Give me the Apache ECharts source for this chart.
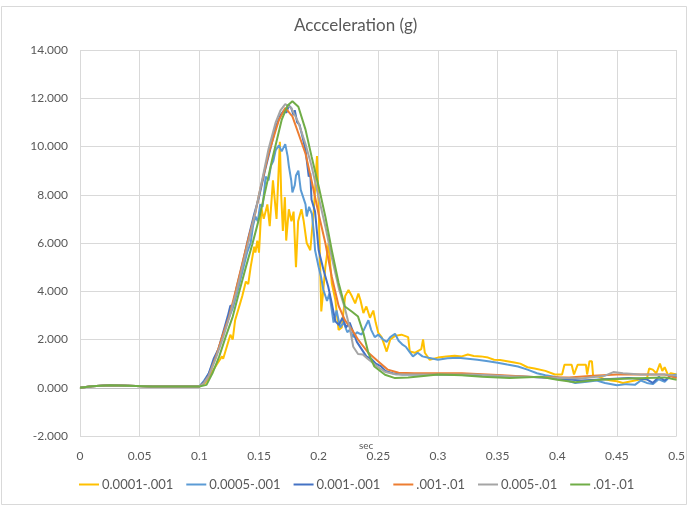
<!DOCTYPE html>
<html>
<head>
<meta charset="utf-8">
<style>
  html, body { margin: 0; padding: 0; background: #fff; }
  .chart { width: 688px; height: 506px; }
</style>
<script src="https://cdn.jsdelivr.net/npm/echarts@6/dist/echarts.min.js"></script>
</head>
<body>
<div class="chart"></div>
<script>
// 图例名字
var seriesNames = ['0.0001-.001', '0.0005-.001', '0.001-.001', '.001-.01', '0.005-.01', '.01-.01'];
var seriesColors = ['#FFC000', '#5B9BD5', '#4472C4', '#ED7D31', '#A5A5A5', '#70AD47'];
var yTicks = [-2, 0, 2, 4, 6, 8, 10, 12, 14];

// 每条线 [sec, g]
var s0001 = [[0, 0], [0.01, 0.06], [0.025, 0.1], [0.04, 0.08], [0.06, 0.05], [0.1, 0.05], [0.105, 0.2], [0.11, 0.6],
  [0.115, 1.0], [0.119, 1.3], [0.12, 1.2], [0.123, 1.7], [0.126, 2.2], [0.128, 2.0], [0.13, 2.8], [0.133, 3.3],
  [0.136, 3.8], [0.139, 4.4], [0.141, 4.3], [0.143, 5.0], [0.146, 5.85], [0.147, 5.6], [0.1486, 6.1], [0.15, 5.6],
  [0.152, 7.45], [0.154, 7.0], [0.157, 7.6], [0.159, 6.7], [0.1617, 8.6], [0.1647, 7.0], [0.1675, 10.2], [0.1686, 8.0],
  [0.17, 6.5], [0.1717, 7.9], [0.1728, 6.1], [0.175, 7.4], [0.1772, 6.9], [0.179, 7.3], [0.181, 5.0], [0.1828, 6.9],
  [0.1856, 7.4], [0.1875, 6.9], [0.19, 6.0], [0.193, 5.7], [0.196, 7.4], [0.1986, 9.6], [0.2, 7.5], [0.2022, 3.16],
  [0.204, 4.1], [0.2056, 5.0], [0.2083, 6.0], [0.211, 4.33], [0.214, 3.64], [0.2167, 2.4], [0.2194, 2.5], [0.2222, 3.8],
  [0.225, 4.05], [0.2278, 3.8], [0.2306, 3.5], [0.2333, 3.9], [0.235, 3.64], [0.2375, 3.1], [0.24, 3.37], [0.243, 2.9],
  [0.2458, 3.2], [0.2478, 2.7], [0.25, 2.27], [0.2528, 2.1], [0.257, 1.5], [0.26, 2.0], [0.264, 2.15], [0.2694, 2.2],
  [0.275, 2.1], [0.2764, 1.5], [0.2806, 1.45], [0.286, 1.6], [0.2875, 2.0], [0.289, 1.45], [0.293, 1.16], [0.3, 1.25],
  [0.307, 1.3], [0.314, 1.33], [0.32, 1.3], [0.325, 1.38], [0.33, 1.32], [0.336, 1.3], [0.342, 1.25], [0.347, 1.16],
  [0.352, 1.15], [0.358, 1.1], [0.364, 1.05], [0.369, 1.0], [0.375, 0.85], [0.381, 0.8], [0.39, 0.7], [0.398, 0.55],
  [0.404, 0.55], [0.406, 0.95], [0.412, 0.95], [0.414, 0.55], [0.417, 0.95], [0.424, 0.95], [0.425, 0.55], [0.427, 1.1],
  [0.429, 1.1], [0.43, 0.5], [0.435, 0.45], [0.44, 0.35], [0.445, 0.3], [0.45, 0.27], [0.455, 0.2], [0.46, 0.25],
  [0.465, 0.3], [0.47, 0.35], [0.475, 0.35], [0.477, 0.8], [0.48, 0.75], [0.483, 0.6], [0.486, 1.0], [0.488, 0.7],
  [0.49, 0.85], [0.493, 0.5], [0.495, 0.6], [0.5, 0.55]];

var s0005 = [[0, 0], [0.01, 0.06], [0.025, 0.1], [0.04, 0.08], [0.06, 0.05], [0.1, 0.05], [0.104, 0.3], [0.108, 0.6],
  [0.112, 1.1], [0.116, 1.6], [0.12, 2.2], [0.124, 2.8], [0.128, 3.3], [0.132, 4.0], [0.136, 4.8], [0.14, 5.6],
  [0.143, 6.0], [0.145, 6.7], [0.147, 7.1], [0.149, 6.9], [0.151, 7.6], [0.153, 7.5], [0.1556, 8.75], [0.158, 8.6],
  [0.16, 9.2], [0.162, 9.4], [0.164, 9.85], [0.1667, 10.05], [0.169, 9.8], [0.172, 10.1], [0.174, 9.6], [0.175, 9.2],
  [0.177, 8.6], [0.178, 8.1], [0.18, 8.4], [0.181, 8.8], [0.183, 9.0], [0.185, 8.2], [0.187, 7.9], [0.189, 7.6],
  [0.19, 7.1], [0.192, 7.5], [0.1944, 7.2], [0.196, 6.4], [0.197, 5.7], [0.2, 5.0], [0.202, 4.6], [0.204, 4.05],
  [0.207, 3.6], [0.209, 3.9], [0.2125, 2.7], [0.215, 3.2], [0.218, 2.5], [0.221, 2.7], [0.224, 2.3], [0.226, 2.4],
  [0.229, 2.1], [0.232, 2.3], [0.236, 2.2], [0.2417, 2.8], [0.244, 2.4], [0.247, 2.1], [0.25, 2.2], [0.254, 2.0],
  [0.257, 1.9], [0.26, 2.1], [0.264, 2.24], [0.267, 1.95], [0.27, 1.8], [0.273, 1.7], [0.276, 1.5], [0.279, 1.3],
  [0.283, 1.45], [0.287, 1.3], [0.292, 1.24], [0.3, 1.16], [0.308, 1.22], [0.317, 1.24], [0.325, 1.2], [0.333, 1.16],
  [0.342, 1.1], [0.35, 1.04], [0.358, 0.96], [0.367, 0.88], [0.375, 0.75], [0.383, 0.6], [0.39, 0.52], [0.4, 0.44],
  [0.408, 0.3], [0.415, 0.2], [0.425, 0.25], [0.433, 0.3], [0.44, 0.2], [0.45, 0.1], [0.458, 0.15], [0.465, 0.12],
  [0.47, 0.3], [0.475, 0.2], [0.48, 0.15], [0.485, 0.35], [0.49, 0.25], [0.495, 0.5], [0.5, 0.55]];

var s001 = [[0, 0], [0.01, 0.06], [0.025, 0.1], [0.04, 0.08], [0.06, 0.05], [0.1, 0.05], [0.104, 0.25], [0.108, 0.6],
  [0.112, 1.2], [0.116, 1.6], [0.12, 2.3], [0.124, 3.0], [0.126, 3.4], [0.128, 3.4], [0.131, 4.1], [0.136, 5.1],
  [0.141, 6.2], [0.146, 7.2], [0.15, 7.9], [0.155, 9.0], [0.16, 10.0], [0.164, 10.8], [0.168, 11.3], [0.171, 11.5],
  [0.173, 11.4], [0.175, 11.7], [0.177, 11.6], [0.179, 11.3], [0.18, 11.5], [0.182, 11.0], [0.184, 10.9], [0.186, 10.5],
  [0.189, 9.85], [0.1917, 8.75], [0.193, 8.9], [0.194, 7.8], [0.197, 7.3], [0.2, 5.7], [0.204, 4.9], [0.208, 4.2],
  [0.211, 3.5], [0.214, 2.75], [0.217, 2.6], [0.22, 2.9], [0.223, 2.5], [0.226, 2.7], [0.229, 2.3], [0.232, 1.9],
  [0.236, 1.6], [0.24, 1.3], [0.244, 1.2], [0.248, 1.0], [0.252, 0.9], [0.256, 0.7], [0.262, 0.6], [0.27, 0.55],
  [0.3, 0.55], [0.35, 0.5], [0.38, 0.45], [0.4, 0.38], [0.42, 0.3], [0.44, 0.35], [0.46, 0.4], [0.475, 0.35],
  [0.48, 0.2], [0.485, 0.45], [0.49, 0.3], [0.495, 0.5], [0.5, 0.45]];

var s001b = [[0, 0], [0.01, 0.06], [0.025, 0.1], [0.04, 0.08], [0.06, 0.05], [0.1, 0.05], [0.104, 0.2], [0.108, 0.5],
  [0.114, 1.3], [0.119, 2.1], [0.125, 2.95], [0.1306, 4.05], [0.136, 5.15], [0.1417, 6.3], [0.147, 7.25], [0.15, 8.0],
  [0.158, 9.7], [0.1667, 11.1], [0.172, 11.6], [0.178, 11.25], [0.183, 10.55], [0.189, 9.7], [0.194, 8.6], [0.2, 7.2],
  [0.2056, 6.0], [0.211, 4.6], [0.2167, 3.4], [0.222, 2.8], [0.228, 2.4], [0.233, 2.0], [0.2417, 1.45], [0.25, 1.09],
  [0.258, 0.75], [0.267, 0.62], [0.28, 0.6], [0.3, 0.6], [0.32, 0.6], [0.35, 0.53], [0.38, 0.45], [0.41, 0.42],
  [0.43, 0.5], [0.45, 0.55], [0.49, 0.55], [0.5, 0.4]];

var s005 = [[0, 0], [0.01, 0.06], [0.025, 0.1], [0.04, 0.08], [0.06, 0.05], [0.1, 0.05], [0.104, 0.2], [0.108, 0.5],
  [0.114, 1.25], [0.12, 2.1], [0.125, 2.9], [0.131, 3.95], [0.136, 5.0], [0.142, 6.2], [0.147, 7.3], [0.153, 8.7],
  [0.158, 9.9], [0.164, 11.0], [0.168, 11.5], [0.172, 11.76], [0.177, 11.6], [0.183, 11.0], [0.189, 10.1], [0.194, 9.2],
  [0.2, 7.9], [0.206, 6.6], [0.211, 5.4], [0.217, 4.1], [0.222, 3.3], [0.226, 2.5], [0.229, 1.7], [0.233, 1.4],
  [0.237, 1.38], [0.241, 1.2], [0.245, 1.05], [0.25, 0.85], [0.256, 0.65], [0.265, 0.55], [0.28, 0.55], [0.3, 0.55],
  [0.33, 0.55], [0.36, 0.48], [0.39, 0.42], [0.42, 0.38], [0.44, 0.5], [0.447, 0.65], [0.455, 0.6], [0.47, 0.55],
  [0.49, 0.55], [0.5, 0.5]];

var s01 = [[0, 0], [0.01, 0.06], [0.025, 0.1], [0.04, 0.08], [0.06, 0.05], [0.1, 0.05], [0.106, 0.12], [0.111, 0.6],
  [0.1167, 1.3], [0.122, 2.1], [0.128, 2.95], [0.133, 3.9], [0.139, 5.0], [0.1444, 5.95], [0.15, 7.0], [0.153, 7.65],
  [0.161, 9.45], [0.169, 11.1], [0.174, 11.7], [0.178, 11.88], [0.183, 11.65], [0.189, 10.7], [0.194, 9.6], [0.2, 8.35],
  [0.2056, 7.1], [0.211, 5.7], [0.2167, 4.35], [0.222, 3.37], [0.228, 3.15], [0.233, 2.95], [0.2375, 2.27], [0.2417, 1.44],
  [0.2467, 0.88], [0.2556, 0.54], [0.264, 0.4], [0.275, 0.42], [0.29, 0.5], [0.3, 0.55], [0.32, 0.52], [0.337, 0.46],
  [0.36, 0.4], [0.386, 0.46], [0.4, 0.33], [0.415, 0.23], [0.435, 0.33], [0.46, 0.38], [0.49, 0.43], [0.5, 0.33]];

var allData = [s0001, s0005, s001, s001b, s005, s01];

(function () {
  var myChart = echarts.init(document.querySelector('.chart'));
  var font = 'Lato, "Open Sans", sans-serif';

  var series = [];
  for (var i = 0; i < allData.length; i++) {
    series.push({
      name: seriesNames[i],
      type: 'line',
      data: allData[i],
      symbol: 'none',
      smooth: false,
      lineStyle: { width: 2, color: seriesColors[i] },
      itemStyle: { color: seriesColors[i] }
    });
  }

  var option = {
    animation: false,
    backgroundColor: '#fff',
    textStyle: { fontFamily: font },
    title: {
      text: 'Accceleration (g)',
      left: 289,
      top: 12,
      textStyle: { fontSize: 17, fontWeight: 'normal', color: '#595959', fontFamily: font }
    },
    graphic: [{
      // 外边框
      type: 'rect',
      shape: { x: 1.5, y: 6.5, width: 685, height: 498 },
      style: { fill: 'none', stroke: '#d9d9d9', lineWidth: 1 },
      silent: true
    }, {
      // x轴标题 放在绘图区下方
      type: 'text',
      left: 359,
      top: 441,
      style: { text: 'sec', fill: '#595959', font: '10px ' + font },
      silent: true
    }],
    // 图例只画线
    legend: {
      data: seriesNames,
      bottom: 10,
      left: 74,
      icon: 'rect',
      itemWidth: 20,
      itemHeight: 2,
      itemGap: 13,
      textStyle: { fontSize: 13, color: '#595959', fontFamily: font, padding: [0, 0, 0, -2] }
    },
    grid: {
      left: 80,
      right: 8,
      top: 50,
      bottom: 70,
      containLabel: false
    },
    xAxis: {
      type: 'value',
      min: 0,
      max: 0.5,
      interval: 0.05,
      axisLine: { onZero: true, lineStyle: { color: '#bfbfbf', width: 1 } },
      axisTick: { show: false },
      axisLabel: {
        color: '#595959',
        fontSize: 12,
        margin: 14,
        formatter: function (v) { return String(parseFloat(v.toFixed(2))); }
      },
      splitLine: { show: true, lineStyle: { color: '#d9d9d9', width: 1 } }
    },
    yAxis: {
      type: 'value',
      min: yTicks[0],
      max: yTicks[yTicks.length - 1],
      interval: 2,
      axisLine: { show: false },
      axisTick: { show: false },
      axisLabel: {
        color: '#595959',
        fontSize: 12,
        margin: 12,
        formatter: function (v) { return v.toFixed(3); }
      },
      splitLine: { show: true, lineStyle: { color: '#d9d9d9', width: 1 } }
    },
    series: series
  };
  myChart.setOption(option);
  window.addEventListener('resize', function () {
    myChart.resize();
  });
})();
</script>
</body>
</html>
